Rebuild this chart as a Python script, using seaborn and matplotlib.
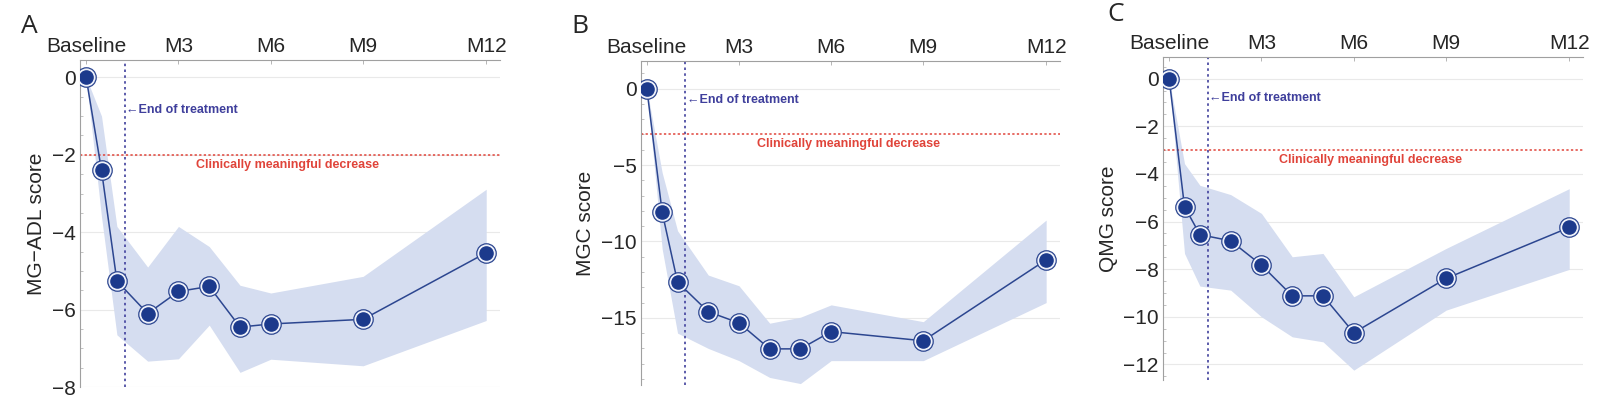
import numpy as np
import seaborn as sns
import matplotlib
matplotlib.use("Agg")
from matplotlib import pyplot as plt
from matplotlib.ticker import MultipleLocator

# weeks since baseline
weeks = [0, 2, 4, 8, 12, 16, 20, 24, 36, 52]
tick_pos = [0, 12, 24, 36, 52]
tick_labels = ["Baseline", "M3", "M6", "M9", "M12"]
end_of_treatment = 5

# panel A: MG-ADL
adl_mean = [0, -2.4, -5.26, -6.1, -5.53, -5.4, -6.45, -6.37, -6.25, -4.53]
adl_upper = [0, -1.0, -3.85, -4.9, -3.85, -4.37, -5.37, -5.57, -5.14, -2.89]
adl_lower = [0, -3.6, -6.65, -7.33, -7.27, -6.4, -7.62, -7.28, -7.45, -6.28]

# panel B: MGC
mgc_mean = [0, -8.1, -12.66, -14.6, -15.33, -17.03, -17.03, -15.9, -16.5, -11.2]
mgc_upper = [0, -5.5, -9.3, -12.2, -12.9, -15.35, -14.96, -14.15, -15.25, -8.6]
mgc_lower = [0, -10.5, -16.0, -17.0, -17.8, -18.9, -19.3, -17.8, -17.8, -14.0]

# panel C: QMG
qmg_mean = [0, -5.38, -6.55, -6.81, -7.83, -9.12, -9.12, -10.67, -8.39, -6.25]
qmg_upper = [0, -3.57, -4.48, -4.87, -5.66, -7.48, -7.34, -9.16, -7.13, -4.62]
qmg_lower = [0, -7.34, -8.71, -8.88, -10.0, -10.84, -11.05, -12.24, -9.72, -8.01]

sns.set_style("white")
plt.rcParams['font.family'] = ['Liberation Sans', 'DejaVu Sans']

panels = [
    dict(letter="A", ylabel="MG\u2212ADL score", mean=adl_mean, up=adl_upper, lo=adl_lower,
         ylim=(-8.0, 0.45), major=2, minor=0.5, mcid=-2, eot_y=-0.85,
         pos=[0.0493, 0.025, 0.259, 0.824], lx=0.013, ly=0.965),
    dict(letter="B", ylabel="MGC score", mean=mgc_mean, up=mgc_upper, lo=mgc_lower,
         ylim=(-19.4, 1.8), major=5, minor=1, mcid=-3, eot_y=-0.75,
         pos=[0.395, 0.030, 0.2585, 0.816], lx=0.352, ly=0.965),
    dict(letter="C", ylabel="QMG score", mean=qmg_mean, up=qmg_upper, lo=qmg_lower,
         ylim=(-12.65, 0.9), major=2, minor=0.5, mcid=-3, eot_y=-0.8,
         pos=[0.717, 0.043, 0.259, 0.813], lx=0.683, ly=0.995),
]

line_col = "#2c4690"
dot_col = "#1c3a8c"
band_col = "#d5ddf0"
eot_col = "#3f3f9c"
red_col = "#e0443a"

fig = plt.figure(figsize=(16.22, 3.97), dpi=100)

for p in panels:
    ax = fig.add_axes(p["pos"])
    ax.fill_between(weeks, p["lo"], p["up"], color=band_col, lw=0, zorder=1)
    sns.lineplot(x=weeks, y=p["mean"], ax=ax, color=line_col, lw=1.1, zorder=3)
    ax.plot(weeks, p["mean"], "o", ms=14, mfc="#eef1fa", mec=line_col, mew=0.9, zorder=4)
    ax.plot(weeks, p["mean"], "o", ms=9.5, mfc=dot_col, mec=dot_col, zorder=5)

    ax.axvline(end_of_treatment, color=eot_col, ls=(0, (1.5, 2)), lw=1.2, zorder=2)
    ax.text(end_of_treatment + 0.2, p["eot_y"], "\u2190End of treatment", color=eot_col,
            fontsize=9, fontweight="bold", va="center", ha="left")
    ax.axhline(p["mcid"], color=red_col, ls=(0, (1.5, 1.5)), lw=1.1, zorder=2)
    ax.text(26.2, p["mcid"] - 0.012 * (p["ylim"][1] - p["ylim"][0]),
            "Clinically meaningful decrease", color=red_col, fontsize=9,
            fontweight="bold", va="top", ha="center")

    ax.set_xlim(-0.8, 53.8)
    ax.set_ylim(*p["ylim"])
    ax.xaxis.tick_top()
    ax.set_xticks(tick_pos)
    ax.set_xticklabels(tick_labels)
    ax.yaxis.set_major_locator(MultipleLocator(p["major"]))
    ax.yaxis.set_minor_locator(MultipleLocator(p["minor"]))
    ax.tick_params(axis="x", which="major", direction="in", length=3, width=0.6,
                   color="#aaaaaa", labelsize=15, pad=3)
    ax.tick_params(axis="y", which="major", direction="in", length=4, width=0.6,
                   color="#aaaaaa", labelsize=15, pad=3)
    ax.tick_params(axis="y", which="minor", direction="in", length=2, width=0.5,
                   color="#aaaaaa", left=True)
    ax.grid(axis="y", which="major", color="#e9e9e9", lw=0.8)
    ax.set_axisbelow(True)
    for s in ["bottom", "right"]:
        ax.spines[s].set_visible(False)
    for s in ["left", "top"]:
        ax.spines[s].set_color("#a0a0a0")
        ax.spines[s].set_linewidth(0.8)
    ax.set_ylabel(p["ylabel"], fontsize=15, labelpad=4)

    fig.text(p["lx"], p["ly"], p["letter"], fontsize=19, va="top", ha="left",
             family=["Open Sans", "DejaVu Sans"])

fig.savefig("out.png", dpi=100)
